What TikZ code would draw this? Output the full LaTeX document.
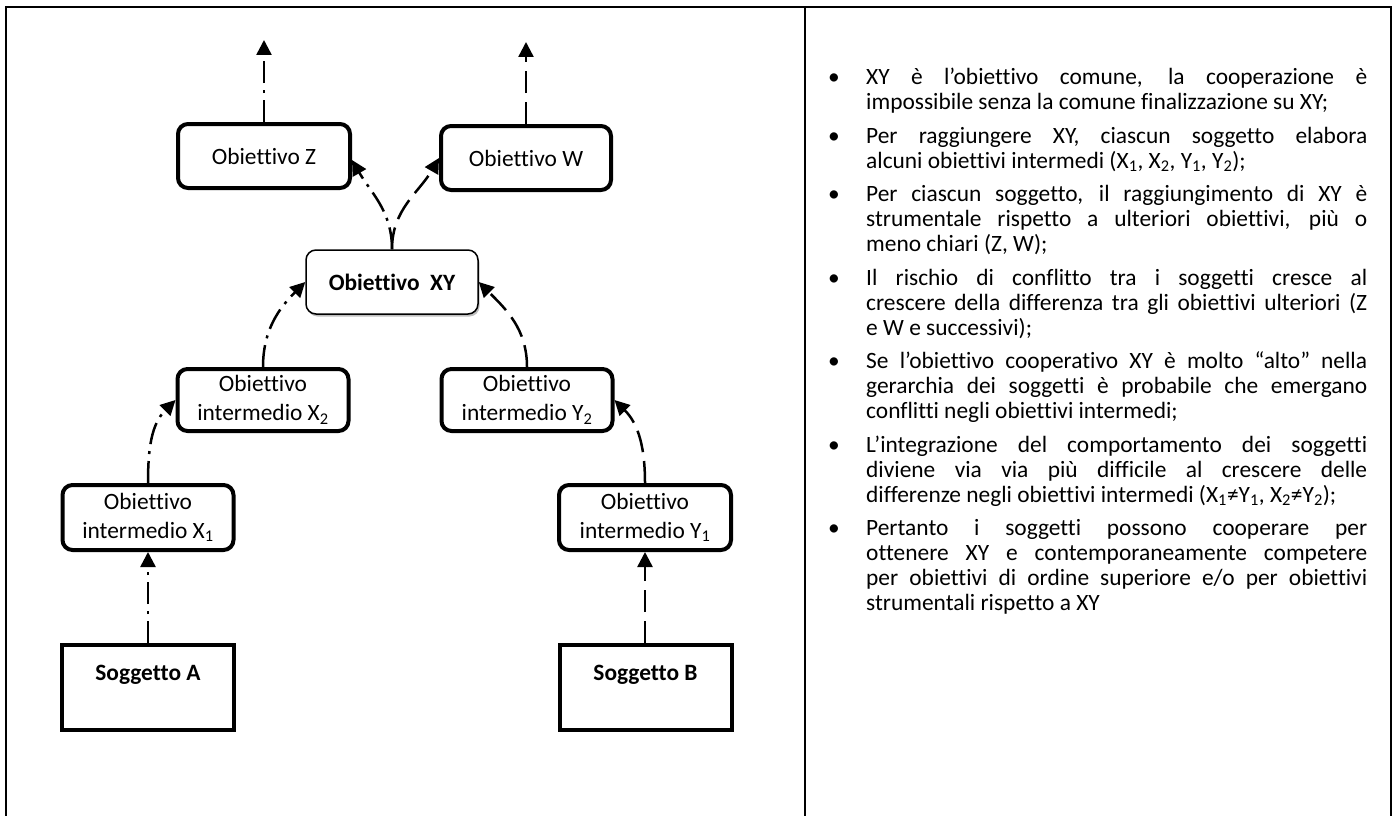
\documentclass[tikz,border=0pt]{standalone}
\usepackage{fontspec}
\setmainfont{Carlito}[Ligatures={NoCommon,TeX}]
\usetikzlibrary{arrows.meta,shadows}

\newcommand{\boxfnt}{\fontsize{23.4}{29}\selectfont}
\newcommand{\txtfnt}{\fontsize{23.4}{25}\selectfont}
\newcommand{\jline}[1]{\makebox[501pt][s]{#1}}
\newcommand{\lline}[1]{\makebox[501pt][l]{#1}}
\newcommand{\bul}{\makebox[35pt][l]{\hspace*{-3pt}\textbullet}}
\newcommand{\ind}{\hspace*{35pt}}
\newcommand{\sub}[1]{\textsubscript{#1}}

\tikzset{
  goalbox/.style={draw, line width=4pt, rounded corners=10pt,
    minimum width=171pt, minimum height=64pt, inner sep=0pt,
    align=center, font=\boxfnt},
  subjbox/.style={draw, line width=4pt, minimum width=172pt,
    minimum height=85pt, inner sep=0pt, align=center,
    font=\boxfnt\bfseries},
  xybox/.style={draw, line width=1.5pt, rounded corners=10pt,
    minimum width=172pt, minimum height=64pt, inner sep=0pt,
    fill=white, font=\boxfnt\bfseries,
    drop shadow={shadow xshift=1.5pt, shadow yshift=-2.5pt,
      opacity=0.25, fill=black}},
  notestext/.style={inner sep=0pt, text width=536pt, align=justify, font=\txtfnt},
  framestroke/.style={line width=2pt},
  flowdash/.style={line width=2.5pt, dash pattern=on 22pt off 9pt,
    -{Triangle[width=15pt,length=15pt]}},
  flowdot/.style={line width=2.5pt,
    dash pattern=on 22pt off 7pt on 3pt off 7pt,
    -{Triangle[width=15pt,length=15pt]}}
}

\begin{document}
\begin{tikzpicture}[x=1pt,y=1pt]
\useasboundingbox (0,0) rectangle (1397,-816);

% frame
\coordinate (fbl) at (6,-816);
\coordinate (ftl) at (6,-7);
\coordinate (ftr) at (1391,-7);
\coordinate (fbr) at (1391,-816);
\coordinate (dtop) at (805,-7);
\coordinate (dbot) at (805,-816);
\draw[framestroke] (fbl) -- (ftl) -- (ftr) -- (fbr);
\draw[framestroke] (dtop) -- (dbot);

% nodes
\node[goalbox, minimum width=172pt] (z) at (264,-156) {Obiettivo Z};
\node[goalbox, minimum width=170pt] (w) at (526,-158) {Obiettivo W};
\node[xybox] (xy) at (392,-282) {Obiettivo\ \ XY};
\node[goalbox, minimum height=62pt] (x2) at (263,-400) {Obiettivo\\intermedio X\sub{2}};
\node[goalbox, minimum height=62pt] (y2) at (527,-400) {Obiettivo\\intermedio Y\sub{2}};
\node[goalbox, minimum height=65pt] (x1) at (148,-517.5) {Obiettivo\\intermedio X\sub{1}};
\node[goalbox, minimum height=65pt, minimum width=172pt] (y1) at (645,-517.5) {Obiettivo\\intermedio Y\sub{1}};
\node[subjbox] (sa) at (148,-687.5) {Soggetto A\\\mbox{}};
\node[subjbox] (sb) at (645.5,-687.5) {Soggetto B\\\mbox{}};

\coordinate (ztop) at (264,-40);
\coordinate (wtop) at (526,-42);

% connectors
\draw[flowdot] (z.north) -- (ztop);
\draw[flowdash] (w.north) -- (wtop);
\draw[flowdot] (xy.north) to[out=90,in=-60] ([yshift=-4pt]z.east);
\draw[flowdash] (xy.north) to[out=90,in=-120] (w.west);
\draw[flowdot] (x2.north) to[out=90,in=-135] (xy.west);
\draw[flowdash] (y2.north) to[out=90,in=-45] (xy.east);
\draw[flowdot] (x1.north) to[out=90,in=-135] (x2.west);
\draw[flowdash] (y1.north) to[out=90,in=-45] (y2.east);
\draw[flowdot] (sa.north) -- (x1.south);
\draw[flowdash] (sb.north -| y1.south) -- (y1.south);

% text
\node[notestext, anchor=north west] (notes) at (831,-68) {%
\bul\jline{XY è l’obiettivo comune, la cooperazione è}\\
\ind\lline{impossibile senza la comune finalizzazione su XY;}\\[8.5pt]
\bul\jline{Per raggiungere XY, ciascun soggetto elabora}\\
\ind\lline{alcuni obiettivi intermedi (X\sub{1}, X\sub{2}, Y\sub{1}, Y\sub{2});}\\[8.5pt]
\bul\jline{Per ciascun soggetto, il raggiungimento di XY è}\\
\ind\jline{strumentale rispetto a ulteriori obiettivi, più o}\\
\ind\lline{meno chiari (Z, W);}\\[8.5pt]
\bul\jline{Il rischio di conflitto tra i soggetti cresce al}\\
\ind\jline{crescere della differenza tra gli obiettivi ulteriori (Z}\\
\ind\lline{e W e successivi);}\\[8.5pt]
\bul\jline{Se l’obiettivo cooperativo XY è molto “alto” nella}\\
\ind\jline{gerarchia dei soggetti è probabile che emergano}\\
\ind\lline{conflitti negli obiettivi intermedi;}\\[8.5pt]
\bul\jline{L’integrazione del comportamento dei soggetti}\\
\ind\jline{diviene via via più difficile al crescere delle}\\
\ind\lline{differenze negli obiettivi intermedi (X\sub{1}≠Y\sub{1}, X\sub{2}≠Y\sub{2});}\\[8.5pt]
\bul\jline{Pertanto i soggetti possono cooperare per}\\
\ind\jline{ottenere XY e contemporaneamente competere}\\
\ind\jline{per obiettivi di ordine superiore e/o per obiettivi}\\
\ind\lline{strumentali rispetto a XY}};
\end{tikzpicture}
\end{document}
